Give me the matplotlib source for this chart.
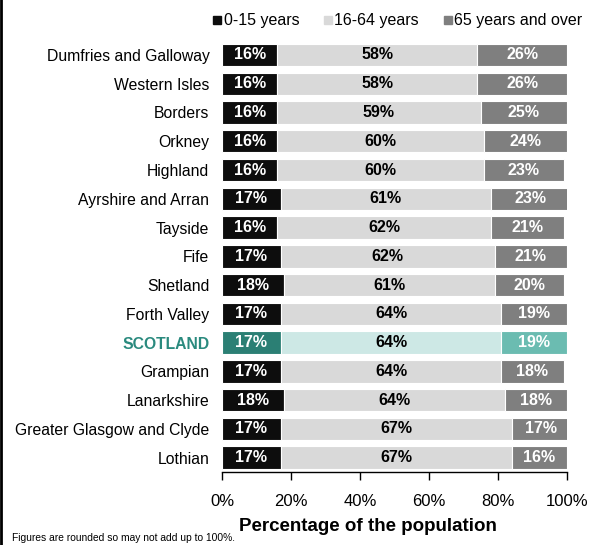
import matplotlib
matplotlib.use("Agg")
from matplotlib import pyplot as plt
from matplotlib.lines import Line2D
import numpy as np

regions = ['Dumfries and Galloway', 'Western Isles', 'Borders', 'Orkney', 'Highland',
           'Ayrshire and Arran', 'Tayside', 'Fife', 'Shetland', 'Forth Valley',
           'SCOTLAND', 'Grampian', 'Lanarkshire', 'Greater Glasgow and Clyde', 'Lothian']
age_0_15 = [16, 16, 16, 16, 16, 17, 16, 17, 18, 17, 17, 17, 18, 17, 17]
age_16_64 = [58, 58, 59, 60, 60, 61, 62, 62, 61, 64, 64, 64, 64, 67, 67]
age_65_plus = [26, 26, 25, 24, 23, 23, 21, 21, 20, 19, 19, 18, 18, 17, 16]
series_labels = ['0-15 years', '16-64 years', '65 years and over']

plt.rcParams['font.family'] = ['Liberation Sans', 'DejaVu Sans']

colors = ['#0d0d0d', '#d9d9d9', '#7f7f7f']
scot_colors = ['#2b7f74', '#cde8e5', '#6bbcb1']
text_colors = ['white', 'black', 'white']
teal_text = '#2a8a7e'

fig = plt.figure(figsize=(6.04, 5.45), dpi=100)
ax = fig.add_axes([0.3675, 0.134, 0.5712, 0.7915])

y = np.arange(len(regions))
data = np.array([age_0_15, age_16_64, age_65_plus], dtype=float)
left = np.zeros(len(regions))
for i in range(3):
    cols = [scot_colors[i] if r == 'SCOTLAND' else colors[i] for r in regions]
    bars = ax.barh(y, data[i], left=left, height=0.78, color=cols,
                   edgecolor='white', linewidth=0.8)
    for b, v in zip(bars, data[i]):
        ax.text(b.get_x() + b.get_width() / 2, b.get_y() + b.get_height() / 2,
                f'{v:.0f}%', ha='center', va='center', fontsize=11.5,
                fontweight='bold', color=text_colors[i])
    left += data[i]

ax.set_ylim(len(regions) - 0.5, -0.5)
ax.set_xlim(0, 100)
ax.set_yticks(y)
ax.set_yticklabels(regions, fontsize=11.3)
for lbl in ax.get_yticklabels():
    if lbl.get_text() == 'SCOTLAND':
        lbl.set_color(teal_text)
        lbl.set_fontweight('bold')
ax.tick_params(axis='y', length=0, pad=9)
ax.set_xticks(np.arange(0, 101, 20))
ax.set_xticklabels([f'{t}%' for t in range(0, 101, 20)], fontsize=12)
ax.tick_params(axis='x', length=6, width=1, color='black', pad=10)
for s in ['top', 'right', 'left']:
    ax.spines[s].set_visible(False)
ax.spines['bottom'].set_linewidth(1)
ax.set_xlabel('Percentage of the population', fontsize=13.5, fontweight='bold')
ax.xaxis.set_label_coords(0.423, -0.107)

handles = [Line2D([], [], marker='s', linestyle='none', markersize=5.5,
                  markerfacecolor=c, markeredgecolor=c) for c in colors]
fig.legend(handles, series_labels, loc='center', bbox_to_anchor=(0.658, 0.962),
           ncol=3, frameon=False, fontsize=11.5, handletextpad=0.1,
           columnspacing=1.5, handlelength=0.6)

fig.text(0.02, 0.008, 'Figures are rounded so may not add up to 100%.', fontsize=7.4)
fig.add_artist(Line2D([0.002, 0.002], [0, 1], color='black', linewidth=2,
                      transform=fig.transFigure))

fig.savefig('out.png', dpi=100)
